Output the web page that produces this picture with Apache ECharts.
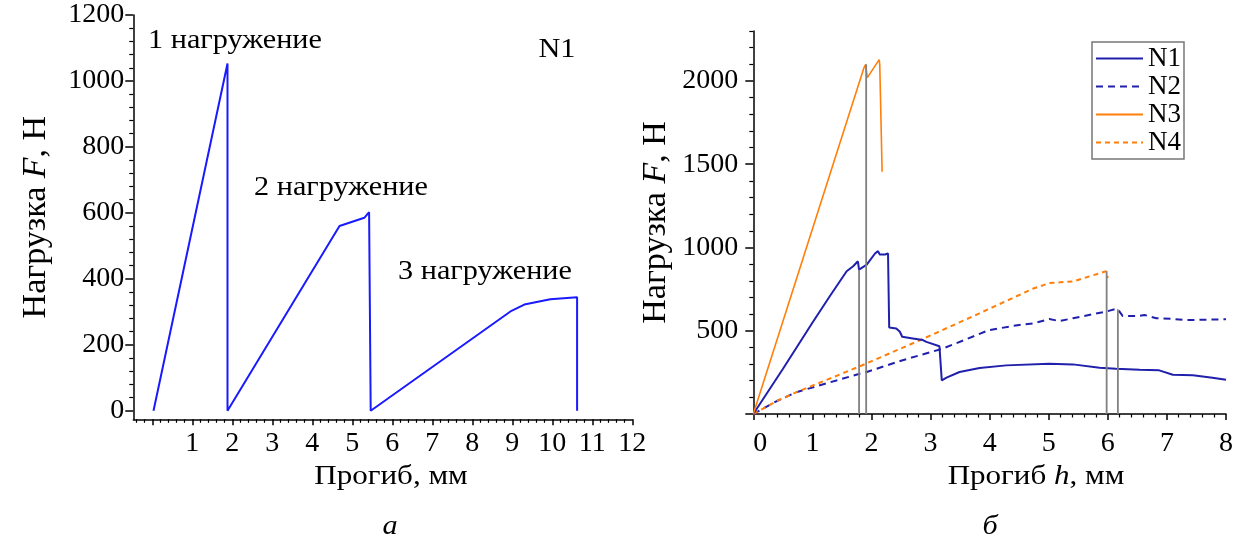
<!DOCTYPE html>
<html><head><meta charset="utf-8">
<script src="https://cdn.jsdelivr.net/npm/echarts@6/dist/echarts.min.js"></script>
<style>html,body{margin:0;padding:0;background:#fff}#c{width:1236px;height:542px}</style>
</head><body><div id="c"></div>
<script>
// ---- data: left chart (N1, three loadings) ----
const leftX = [0.03, 1.88, 1.88, 4.68, 5.30, 5.42, 5.46, 8.98, 9.30, 9.95, 10.62, 10.62];
const leftY = [0, 1053, 0, 560, 585, 602, 0, 303, 322, 338, 344, 0];
// ---- data: right chart ----
const n1X = [0, 0.5, 1.0, 1.3, 1.58, 1.69, 1.77, 1.79, 1.92, 2.06, 2.11, 2.14, 2.23, 2.28, 2.30, 2.42, 2.48, 2.52, 2.70, 2.87, 2.93, 2.96, 3.15, 3.18, 3.19, 3.27, 3.49, 3.83, 4.28, 5.01, 5.41, 5.86, 6.14, 6.54, 6.87, 7.10, 7.44, 7.77, 8.0];
const n1Y = [0, 270, 548, 710, 857, 887, 917, 867, 897, 964, 978, 958, 958, 964, 520, 514, 494, 464, 454, 444, 433, 423, 407, 399, 202, 218, 252, 276, 292, 302, 298, 278, 272, 266, 262, 236, 232, 218, 206];
const n2X = [0, 0.4, 0.73, 1.2, 1.8, 1.92, 2.5, 3.21, 3.99, 4.5, 4.73, 5.01, 5.18, 5.41, 5.97, 6.12, 6.17, 6.25, 6.54, 6.62, 6.82, 7.1, 7.32, 8.0];
const n2Y = [0, 78, 131, 180, 242, 252, 320, 393, 504, 535, 544, 570, 558, 575, 615, 630, 629, 589, 589, 595, 575, 571, 564, 569];
const n3X = [0, 1.87, 1.90, 1.93, 2.13, 2.14, 2.15, 2.18];
const n3Y = [0, 2077, 2098, 2020, 2128, 2098, 1941, 1455];
const n4X = [0, 0.4, 0.73, 1.8, 2.82, 3.8, 4.73, 5.01, 5.41, 5.97, 6.0];
const n4Y = [0, 78, 131, 286, 443, 600, 752, 786, 796, 857, 816];
const grayX = [1.79, 1.91, 5.98, 6.17];
const grayTop = [867, 2100, 857, 629];
// ---- tick labels ----
const leftXTicks = [1, 2, 3, 4, 5, 6, 7, 8, 9, 10, 11, 12];
const leftYTicks = [0, 200, 400, 600, 800, 1000, 1200];
const rightXTicks = [0, 1, 2, 3, 4, 5, 6, 7, 8];
const rightYTicks = [500, 1000, 1500, 2000];

const FF = "'Liberation Serif','Times New Roman',serif";
const pairs = (xs, ys) => xs.map((x, i) => [x, ys[i]]);
function range(a, b, step, skip) {
  const out = [];
  for (let v = a; v <= b + 1e-9; v += step) {
    const r = Math.round(v * 1000) / 1000;
    if (!skip || Math.abs(r / skip - Math.round(r / skip)) > 1e-6) out.push(r);
  }
  return out;
}
const axisLineStyle = { color: '#000', width: 1.5 };
function mainAxis(grid, min, max, labels, ticks, len, margin, pos) {
  return {
    gridIndex: grid, type: 'value', min: min, max: max, position: pos,
    axisLine: { show: true, onZero: false, lineStyle: axisLineStyle },
    axisTick: { show: true, customValues: ticks, length: len, lineStyle: { color: '#000', width: 1.5 } },
    axisLabel: { show: true, customValues: labels, fontSize: 28, fontFamily: FF, color: '#000', margin: margin,
      formatter: v => String(v) },
    splitLine: { show: false }
  };
}
function minorAxis(grid, min, max, ticks, len, pos) {
  return {
    gridIndex: grid, type: 'value', min: min, max: max, position: pos,
    axisLine: { show: false, onZero: false },
    axisTick: { show: true, customValues: ticks, length: len, lineStyle: { color: '#000', width: 1.2 } },
    axisLabel: { show: false },
    splitLine: { show: false }
  };
}
const yName = {
  name: '{a|Нагрузка }{i|F}{a|, Н}', nameLocation: 'middle', nameGap: 80, nameRotate: 90,
  nameTextStyle: { rich: { a: { fontSize: 34, fontFamily: FF, color: '#000' }, i: { fontSize: 34, fontFamily: FF, fontStyle: 'italic', color: '#000' } } }
};

const rightX = mainAxis(1, 0, 8, rightXTicks, range(0, 8, 1), 6, 16, 'bottom');
rightX.axisLabel.alignMinLabel = 'left';
const xAxes = [
  mainAxis(0, -0.475, 12, leftXTicks, range(0, 12, 1), 6, 10, 'bottom'),
  minorAxis(0, -0.475, 12, range(-0.4, 12, 0.2, 1), 3.5, 'bottom'),
  rightX,
  minorAxis(1, 0, 8, range(0, 8, 0.2, 1), 3.5, 'bottom')
];
const yAxes = [
  Object.assign(mainAxis(0, -26, 1200, leftYTicks, leftYTicks, 8, 9, 'left'), yName),
  minorAxis(0, -26, 1200, range(0, 1200, 40, 200), 4, 'left'),
  Object.assign(mainAxis(1, 0, 2300, rightYTicks, range(0, 2000, 500), 8, 15, 'left'), yName),
  minorAxis(1, 0, 2300, range(0, 2300, 100, 500), 4, 'left')
];

const series = [
  { name: 'left', type: 'line', xAxisIndex: 0, yAxisIndex: 0, data: pairs(leftX, leftY), symbol: 'none',
    lineStyle: { color: '#1a1aff', width: 2 }, itemStyle: { color: '#1a1aff' } },
  { name: 'N2', type: 'line', xAxisIndex: 2, yAxisIndex: 2, data: pairs(n2X, n2Y), symbol: 'none',
    lineStyle: { color: '#2020ac', width: 2, type: [7, 5] }, itemStyle: { color: '#2020ac' } },
  { name: 'N4', type: 'line', xAxisIndex: 2, yAxisIndex: 2, data: pairs(n4X, n4Y), symbol: 'none',
    lineStyle: { color: '#ff7f0a', width: 2, type: [5, 4] }, itemStyle: { color: '#ff7f0a' } },
  { name: 'N1', type: 'line', xAxisIndex: 2, yAxisIndex: 2, data: pairs(n1X, n1Y), symbol: 'none',
    lineStyle: { color: '#2020ac', width: 2 }, itemStyle: { color: '#2020ac' } },
  { name: 'N3', type: 'line', xAxisIndex: 2, yAxisIndex: 2, data: pairs(n3X, n3Y), symbol: 'none',
    lineStyle: { color: '#ff7f0a', width: 1.6 }, itemStyle: { color: '#ff7f0a' } }
];
grayX.forEach((x, i) => {
  series.push({ name: 'g' + i, type: 'line', xAxisIndex: 2, yAxisIndex: 2, data: [[x, 0], [x, grayTop[i]]],
    symbol: 'none', lineStyle: { color: '#808080', width: 1.8 }, z: 3 });
});

function txt(x, y, rich, text, sx) {
  return { type: 'text', x: x, y: y, scaleX: sx || 1.12,
    style: { text: text, rich: rich, align: 'center', verticalAlign: 'middle', fill: '#000',
      font: '27px ' + FF } };
}
const richBase = { a: { fontSize: 27, fontFamily: FF, fill: '#000' }, i: { fontSize: 27, fontFamily: FF, fontStyle: 'italic', fill: '#000' } };

const option = {
  animation: false,
  backgroundColor: '#fff',
  grid: [
    { left: 133.3, top: 15, width: 499, height: 404.3 },
    { left: 753.3, top: 31, width: 473.7, height: 383 }
  ],
  xAxis: xAxes,
  yAxis: yAxes,
  legend: {
    data: ['N1', 'N2', 'N3', 'N4'], orient: 'vertical', left: 1092, top: 42,
    itemWidth: 47, itemHeight: 2, itemGap: 1, padding: [3, 3, 3, 3],
    itemStyle: { opacity: 0 },
    borderColor: '#777', borderWidth: 1.5, backgroundColor: '#fff',
    textStyle: { fontSize: 27, fontFamily: FF, color: '#000', lineHeight: 26 },
    selectedMode: false
  },
  graphic: [
    txt(235, 41, richBase, '{a|1 нагружение}'),
    txt(341, 188, richBase, '{a|2 нагружение}'),
    txt(485, 272, richBase, '{a|3 нагружение}'),
    txt(557, 50, richBase, '{a|N1}'),
    txt(391, 477, richBase, '{a|Прогиб, мм}', 1.15),
    txt(1036, 477, richBase, '{a|Прогиб }{i|h}{a|, мм}', 1.15),
    txt(390, 527, richBase, '{i|а}'),
    txt(990, 527, richBase, '{i|б}')
  ],
  series: series
};
const chart = echarts.init(document.getElementById('c'), null, { renderer: 'canvas' });
chart.setOption(option);
</script></body></html>
